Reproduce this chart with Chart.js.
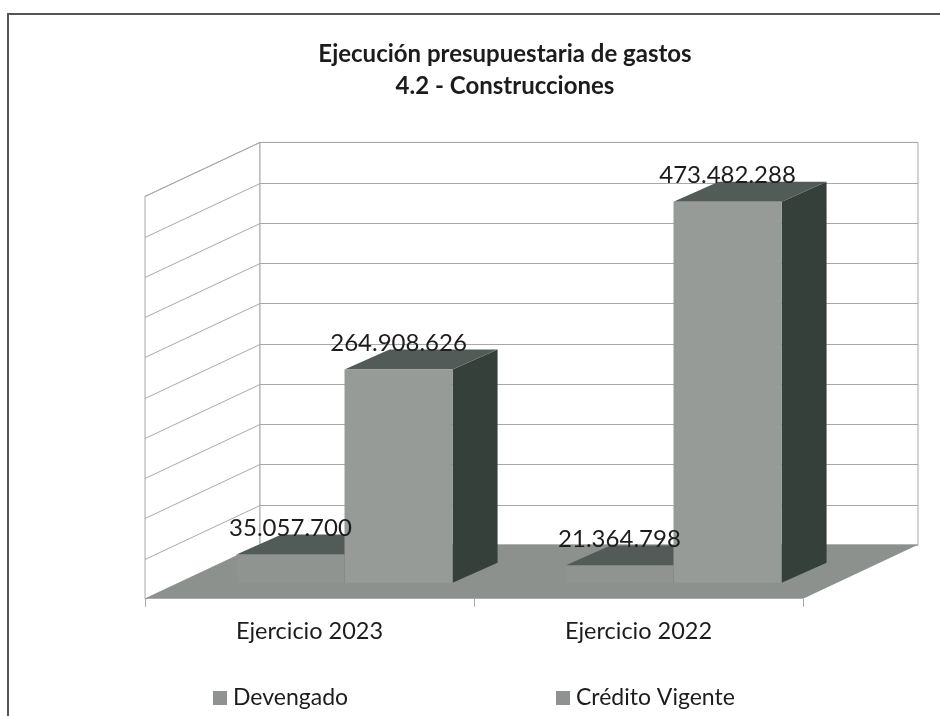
<!DOCTYPE html>
<html><head><meta charset="utf-8">
<script src="https://cdn.jsdelivr.net/npm/chart.js@4.4.1/dist/chart.umd.min.js"></script>
<style>html,body{margin:0;padding:0;background:#fff;}#wrap{width:940px;height:716px;position:relative;}</style>
</head><body><div id="wrap"><canvas id="c"></canvas></div>
<script>
// ---- data ----
const titleLines = ['Ejecución presupuestaria de gastos', '4.2 - Construcciones'];
const categories = ['Ejercicio 2023', 'Ejercicio 2022'];
const seriesNames = ['Devengado', 'Crédito Vigente'];
const devengado = [35057700, 21364798];
const creditoVigente = [264908626, 473482288];
const yMin = 0, yMax = 500000000, yStep = 50000000;

// ---- style ----
const FONT = 'Lato, "Open Sans", sans-serif';
const frontColors = ['#8f9491', '#969b98'];
const legendColors = ['#8f9290', '#8f9290'];
const topColor = '#525b57';
const sideColor = '#35403b';
const floorColor = '#8c918e';
const gridColor = '#a8a8a8';
const textColor = '#1c1c1c';
const D = {x:115, y:-54};   // box depth
const B = {x:35, y:-16};    // bar front plane offset
const d = {x:45, y:-20};    // bar depth

function fmt(v){ return String(Math.round(v)).replace(/\B(?=(\d{3})+(?!\d))/g, '.'); }
function poly(ctx, pts){ ctx.beginPath(); ctx.moveTo(pts[0][0], pts[0][1]); for (let i=1;i<pts.length;i++) ctx.lineTo(pts[i][0], pts[i][1]); ctx.closePath(); }

const threeD = {
  id: 'threeD',
  beforeDraw(chart){
    const ctx = chart.ctx;
    ctx.save();
    ctx.strokeStyle = '#555';
    ctx.lineWidth = 2;
    ctx.strokeRect(8, 14, 1100, 900);
    ctx.restore();
  },
  beforeDatasetsDraw(chart){
    const {ctx, chartArea:a} = chart;
    const y = chart.scales.y;
    const y0 = y.getPixelForValue(yMin), yT = y.getPixelForValue(yMax);
    ctx.save();
    ctx.lineWidth = 1;
    ctx.strokeStyle = gridColor;
    // left wall
    ctx.fillStyle = '#fff';
    poly(ctx, [[a.left, yT],[a.left+D.x, yT+D.y],[a.left+D.x, y0+D.y],[a.left, y0]]);
    ctx.fill(); ctx.stroke();
    // back wall
    poly(ctx, [[a.left+D.x, yT+D.y],[a.right+D.x, yT+D.y],[a.right+D.x, y0+D.y],[a.left+D.x, y0+D.y]]);
    ctx.fill(); ctx.stroke();
    // grid lines
    for (let v = yMin; v <= yMax; v += yStep){
      const py = Math.round(y.getPixelForValue(v)) + 0.5;
      ctx.beginPath();
      ctx.moveTo(a.left, py);
      ctx.lineTo(a.left + D.x, py + D.y);
      ctx.lineTo(a.right + D.x, py + D.y);
      ctx.stroke();
    }
    // floor
    ctx.fillStyle = floorColor;
    poly(ctx, [[a.left, y0],[a.right, y0],[a.right+D.x, y0+D.y],[a.left+D.x, y0+D.y]]);
    ctx.fill();
    // bar side and top faces
    chart.data.datasets.forEach((ds, i) => {
      const meta = chart.getDatasetMeta(i);
      meta.data.forEach(bar => {
        const p = bar.getProps(['x','y','base','width'], true);
        const l = p.x - p.width/2 + B.x, r = p.x + p.width/2 + B.x;
        const t = p.y + B.y, b = p.base + B.y;
        ctx.fillStyle = sideColor;
        poly(ctx, [[r,t],[r+d.x,t+d.y],[r+d.x,b+d.y],[r,b]]); ctx.fill();
        ctx.fillStyle = topColor;
        poly(ctx, [[l,t],[r,t],[r+d.x,t+d.y],[l+d.x,t+d.y]]); ctx.fill();
      });
    });
    ctx.restore();
    ctx.save();
    ctx.translate(B.x, B.y);
  },
  afterDatasetsDraw(chart){
    const ctx = chart.ctx;
    ctx.restore();
    ctx.save();
    ctx.font = '24px ' + FONT;
    ctx.fillStyle = textColor;
    ctx.textAlign = 'center';
    ctx.textBaseline = 'middle';
    chart.data.datasets.forEach((ds, i) => {
      const meta = chart.getDatasetMeta(i);
      meta.data.forEach((bar, j) => {
        const p = bar.getProps(['x','y'], true);
        ctx.fillText(fmt(ds.data[j]), p.x + B.x, p.y + B.y - 26);
      });
    });
    ctx.restore();
  },
  afterDraw(chart){
    const ctx = chart.ctx;
    const xs = [213, 556];
    ctx.save();
    ctx.font = '23px ' + FONT;
    ctx.textBaseline = 'middle';
    ctx.textAlign = 'left';
    chart.data.datasets.forEach((ds, i) => {
      ctx.fillStyle = legendColors[i];
      ctx.fillRect(xs[i], 691, 14, 14);
      ctx.fillStyle = textColor;
      ctx.fillText(ds.label, xs[i] + 20, 698);
    });
    ctx.restore();
  }
};

new Chart(document.getElementById('c'), {
  type: 'bar',
  data: {
    labels: categories,
    datasets: [
      {label: seriesNames[0], data: devengado, backgroundColor: frontColors[0], borderWidth: 0, clip: false},
      {label: seriesNames[1], data: creditoVigente, backgroundColor: frontColors[1], borderWidth: 0, clip: false}
    ]
  },
  options: {
    responsive: true,
    maintainAspectRatio: false,
    animation: false,
    events: [],
    layout: {padding: {left: 75, right: 5, top: 30, bottom: 59}},
    datasets: {bar: {barPercentage: 1.0, categoryPercentage: 0.657}},
    plugins: {
      legend: {display: false},
      tooltip: {enabled: false},
      title: {
        display: true,
        text: titleLines,
        color: textColor,
        font: {family: FONT, size: 24, weight: 'bold', lineHeight: 1.3},
        padding: {top: 9, bottom: 95}
      }
    },
    scales: {
      x: {
        grid: {display: true, drawOnChartArea: false, offset: true, tickLength: 8, color: gridColor},
        border: {display: false},
        ticks: {color: textColor, font: {family: FONT, size: 23.5}, padding: 11}
      },
      y: {
        min: yMin, max: yMax,
        ticks: {display: false, stepSize: yStep},
        grid: {display: false},
        border: {display: false},
        afterFit(s){ s.width = 70; }
      },
      yR: {
        position: 'right',
        ticks: {display: false},
        grid: {display: false},
        border: {display: false},
        afterFit(s){ s.width = 132; }
      }
    }
  },
  plugins: [threeD]
});
</script>
</body></html>
